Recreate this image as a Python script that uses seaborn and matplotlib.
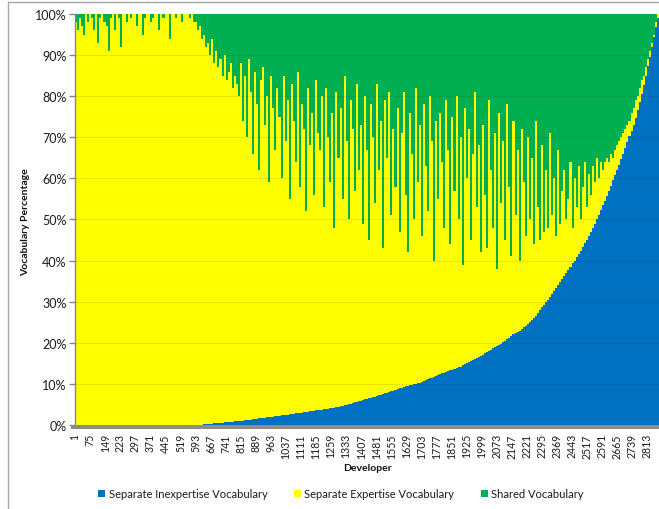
import numpy as np
import pandas as pd
import matplotlib
matplotlib.use("Agg")
import matplotlib.pyplot as plt
import matplotlib.transforms as mtransforms
from matplotlib.patches import Patch, Rectangle
from matplotlib.lines import Line2D
from matplotlib.ticker import PercentFormatter
import seaborn as sns

# Developers are grouped in blocks of 10; every value is the share (%) of the block's vocabulary.
BLOCK = 10
N_DEVELOPERS = 2870

SERIES = ["Separate Inexpertise Vocabulary", "Separate Expertise Vocabulary", "Shared Vocabulary"]
COLORS = ["#0070C0", "#FFFF00", "#00B050"]

# Separate inexpertise vocabulary (%) per block of developers
inexpertise_pct = [0] * 62 + [
    0.05, 0.1, 0.15, 0.2, 0.25, 0.3, 0.35, 0.4,
    0.45, 0.5, 0.55, 0.6, 0.65, 0.7, 0.75, 0.8, 0.85, 0.9,
    0.95, 1.0, 1.05, 1.1, 1.2, 1.25, 1.3, 1.35, 1.4, 1.5,
    1.55, 1.6, 1.7, 1.75, 1.8, 1.9, 1.95, 2.0, 2.1, 2.2,
    2.25, 2.3, 2.4, 2.45, 2.5, 2.6, 2.65, 2.7, 2.8, 2.9,
    2.95, 3.0, 3.1, 3.15, 3.2, 3.3, 3.35, 3.4, 3.5, 3.6,
    3.65, 3.7, 3.8, 3.9, 3.95, 4.0, 4.1, 4.2, 4.3, 4.4,
    4.5, 4.6, 4.75, 4.9, 5.0, 5.15, 5.3, 5.45, 5.6, 5.8,
    5.9, 6.05, 6.2, 6.3, 6.45, 6.6, 6.75, 6.9, 7.05, 7.2,
    7.35, 7.5, 7.65, 7.8, 8.0, 8.15, 8.3, 8.5, 8.7, 8.9,
    9.05, 9.2, 9.35, 9.5, 9.65, 9.8, 9.9, 10.05, 10.2, 10.3,
    10.5, 10.7, 10.9, 11.1, 11.3, 11.5, 11.7, 11.9, 12.15, 12.4,
    12.55, 12.7, 12.9, 13.1, 13.3, 13.45, 13.6, 13.8, 14.0, 14.2,
    14.45, 14.7, 14.95, 15.2, 15.45, 15.7, 15.95, 16.2, 16.5, 16.8,
    17.1, 17.4, 17.7, 18.0, 18.3, 18.6, 18.9, 19.2, 19.5, 19.8,
    20.1, 20.5, 20.8, 21.2, 21.6, 22.0, 22.3, 22.6, 22.9, 23.3,
    23.7, 24.1, 24.6, 25.1, 25.6, 26.1, 26.6, 27.2, 27.9, 28.6,
    29.2, 29.8, 30.5, 31.2, 31.9, 32.6, 33.3, 34.0, 34.7, 35.5,
    36.2, 36.9, 37.7, 38.5, 39.3, 40.0, 40.8, 41.6, 42.4, 43.3,
    44.2, 45.1, 46.0, 47.0, 48.0, 49.0, 50.0, 51.0, 52.2, 53.4,
    54.6, 55.8, 57.0, 58.2, 59.5, 60.8, 62.0, 63.3, 64.6, 66.0,
    67.4, 68.8, 70.2, 71.6, 73.1, 74.8, 76.6, 78.5, 80.6, 82.8,
    85.0, 87.3, 89.6, 92.0, 94.4, 96.8, 99.0,
]

# Shared vocabulary (%) per block of developers
shared_pct = [
    2, 4, 1, 3, 5, 0, 2, 0, 1, 4, 0, 7, 1, 0, 2, 3, 9, 1, 0, 4,
    0, 1, 8, 0, 0, 2, 0, 1, 0, 0, 3, 0, 0, 5, 1, 0, 0, 2, 1, 0,
    0, 4, 0, 1, 0, 0, 6, 0, 0, 1, 0, 0, 2, 0, 0, 0, 1, 0, 2,
    2, 4, 3, 6, 5, 8, 7, 10, 6, 12, 9, 13, 11, 15, 10, 16, 14, 12, 18, 15, 17,
    20, 12, 26, 15, 30, 11, 19, 34, 14, 22, 38, 16, 13, 27, 20, 41, 15, 23, 33, 18,
    25, 40, 15, 31, 21, 45, 17, 26, 36, 14, 42, 22, 28, 48, 18, 32, 24, 44, 16, 29,
    33, 20, 47, 18, 30, 41, 24, 52, 19, 35, 23, 45, 15, 31, 50, 21, 28, 43, 17, 38,
    27, 51, 20, 33, 55, 22, 30, 46, 17, 38, 26, 57, 21, 35, 19, 49, 28, 42, 23, 53,
    29, 19, 44, 58, 24, 34, 50, 18, 41, 27, 54, 22, 37, 48, 20, 31, 60, 26, 45, 24,
    36, 52, 21, 33, 56, 25, 43, 20, 50, 30, 61, 23, 40, 28, 55, 34, 19, 47, 32, 58,
    27, 44, 57, 21, 38, 52, 29, 62, 24, 46, 31, 55, 22, 42, 59, 26, 49, 33, 60, 28,
    41, 54, 30, 50, 35, 56, 26, 47, 55, 32, 53, 38, 52, 29, 49, 40, 54, 33, 51, 43,
    38, 50, 45, 36, 52, 40, 47, 37, 50, 42, 36, 47, 39, 44, 37, 41, 35, 40, 36, 38,
    36, 35, 36, 34, 35, 33, 32, 31, 30, 29, 28, 27, 26, 24, 23, 21, 20, 18, 16, 15,
    13, 11, 9, 7, 5, 2, 0,
]

x_tick_labels = [1, 75, 149, 223, 297, 371, 445, 519, 593, 667, 741, 815, 889, 963,
                 1037, 1111, 1185, 1259, 1333, 1407, 1481, 1555, 1629, 1703, 1777,
                 1851, 1925, 1999, 2073, 2147, 2221, 2295, 2369, 2443, 2517, 2591,
                 2665, 2739, 2813]
y_ticks = [0.0, 0.1, 0.2, 0.3, 0.4, 0.5, 0.6, 0.7, 0.8, 0.9, 1.0]

# The expertise share is what remains of each block's vocabulary
inexpertise = np.array(inexpertise_pct, dtype=float)
shared = np.array(shared_pct, dtype=float)
expertise = 100.0 - inexpertise - shared
centers = np.arange(len(inexpertise)) * BLOCK + (BLOCK + 1) / 2

df = pd.concat([
    pd.DataFrame({"developer": centers, "vocab": name, "share": vals})
    for name, vals in zip(SERIES, [inexpertise, expertise, shared])
], ignore_index=True)

sns.set_theme(style="white")
plt.rcParams["font.family"] = ["Lato", "DejaVu Sans"]

W, H = 659, 510
fig = plt.figure(figsize=(W / 100, H / 100), dpi=100)
fig.patch.set_facecolor("white")
ax = fig.add_axes([75 / W, 1 - 430 / H, (W - 75) / W, 415 / H])

palette = dict(zip(SERIES, COLORS))
sns.histplot(data=df, x="developer", weights="share", hue="vocab",
             hue_order=[SERIES[2], SERIES[1], SERIES[0]], multiple="fill",
             binwidth=BLOCK, binrange=(0.5, N_DEVELOPERS + 0.5), palette=palette,
             alpha=1, linewidth=0, antialiased=False, legend=False, ax=ax, zorder=2)

ax.set_xlim(0.5, N_DEVELOPERS + 0.5)
ax.set_ylim(-0.0101, 1.0)

# grey floor under the bars
floor = Rectangle((-0.007, -0.0101), 1.007, 0.0101,
                  transform=mtransforms.blended_transform_factory(ax.transAxes, ax.transData),
                  facecolor="#8C8C8C", edgecolor="none", clip_on=False, zorder=3)
ax.add_patch(floor)

# faint horizontal gridlines
for v in y_ticks[1:-1]:
    ax.axhline(v, color="#2b2b2b", alpha=0.13, lw=0.7, zorder=4)

ax.set_yticks(y_ticks)
ax.yaxis.set_major_formatter(PercentFormatter(xmax=1.0, decimals=0))
ax.set_xticks(x_tick_labels)
ax.set_xticklabels([str(v) for v in x_tick_labels], rotation=90)

for side in ["top", "right", "bottom"]:
    ax.spines[side].set_visible(False)
ax.spines["left"].set_color("#868686")
ax.spines["left"].set_linewidth(1.0)
ax.spines["left"].set_bounds(0, 1.0)

ax.tick_params(axis="y", which="major", left=True, length=4, width=1.0, color="#868686",
               direction="out", labelsize=9, labelcolor="#1a1a1a", pad=2)
ax.tick_params(axis="x", which="major", bottom=True, length=0, labelsize=7.6,
               labelcolor="#1a1a1a", pad=3)

ax.set_ylabel("Vocabulary Percentage", fontsize=7.5, fontweight="bold", color="#111111")
ax.yaxis.set_label_coords((30 - 75) / (W - 75), 0.5)
ax.set_xlabel("Developer", fontsize=7.5, fontweight="bold", color="#111111")
ax.xaxis.set_label_coords(0.5, (430 - 469) / 415)
ax.xaxis.label.set_va("center")
ax.grid(False)

handles = [Patch(facecolor=c, edgecolor="none") for c in COLORS]
fig.legend(handles=handles, labels=SERIES, loc="center",
           bbox_to_anchor=(341 / W, 1 - 495 / H), ncol=3, frameon=False,
           fontsize=8, handlelength=0.63, handleheight=0.63, handletextpad=0.3,
           columnspacing=2.4, labelcolor="#1a1a1a")

# chart-area border
fig.add_artist(Line2D([8 / W, 8 / W], [0, 1 - 3 / H], transform=fig.transFigure,
                      color="#A6A6A6", lw=1.0))
fig.add_artist(Line2D([8 / W, 1], [1 - 3 / H, 1 - 3 / H], transform=fig.transFigure,
                      color="#A6A6A6", lw=1.0))

fig.savefig("out.png", dpi=100)
